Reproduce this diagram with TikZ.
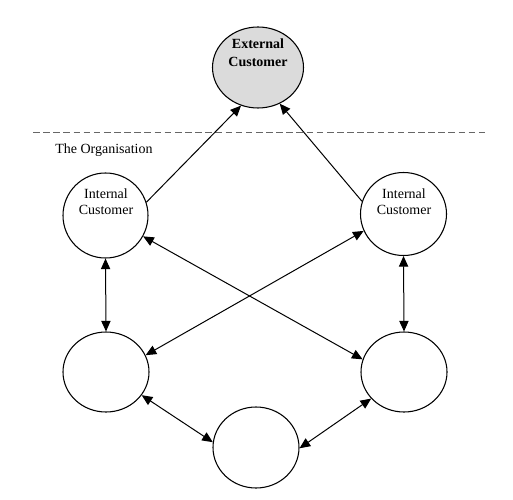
\documentclass[tikz,border=0pt]{standalone}
\usepackage{fontspec}
\setmainfont{Liberation Serif}
\usetikzlibrary{shapes.geometric,arrows.meta}
\begin{document}
\begin{tikzpicture}[x=0.75pt,y=-0.75pt,
  bubble/.style={draw,ellipse,line width=0.8pt,inner sep=0pt},
  lbl/.style={inner sep=0pt,align=center,font=\fontsize{10.5}{12}\selectfont},
  conn/.style={line width=0.75pt,-{Triangle[length=8pt,width=7pt]}},
  conn2/.style={line width=0.75pt,{Triangle[length=8pt,width=7pt]}-{Triangle[length=8pt,width=7pt]}},
  boundary/.style={draw=black!60,line width=0.75pt,dash pattern=on 5pt off 2.6pt}]
\useasboundingbox (0,0) rectangle (513,499);
% boundary
\coordinate (dL) at (33,133);
\coordinate (dR) at (485,133);
\draw[boundary] (dL) -- (dR);
\node[lbl,anchor=base west] (org) at (55,153) {The Organisation};
% bubbles
\node[bubble,fill=black!14,minimum width=68.25pt,minimum height=60.75pt] (ext) at (258,67.5) {};
\node[bubble,minimum width=63.75pt,minimum height=63.75pt] (li) at (105.5,215.5) {};
\node[bubble,minimum width=64.5pt,minimum height=62.25pt] (ri) at (403.5,214) {};
\node[bubble,minimum width=64.5pt,minimum height=60pt] (bl) at (106,372) {};
\node[bubble,minimum width=64.5pt,minimum height=60pt] (br) at (404,372) {};
\node[bubble,minimum width=64.5pt,minimum height=60.75pt] (bc) at (256,447.5) {};
% texts
\node[lbl,font=\fontsize{10.5}{13.2}\selectfont\bfseries] (extT) at (258,52.5) {External\\Customer};
\node[lbl] (liT) at (106,202) {Internal\\Customer};
\node[lbl] (riT) at (404,202) {Internal\\Customer};
% connectors
\draw[conn] (li.18.6) -- (ext.-114);
\draw[conn] (ri.163.6) -- (ext.-59);
\draw[conn2] (li.south) -- (bl.north);
\draw[conn2] (ri.south) -- (br.north);
\draw[conn2] (li.-29.7) -- (br.163.7);
\draw[conn2] (ri.-157.1) -- (bl.23.4);
\draw[conn2] (bl.-33) -- (bc.173.5);
\draw[conn2] (br.-141) -- (bc.-1);
\end{tikzpicture}
\end{document}
